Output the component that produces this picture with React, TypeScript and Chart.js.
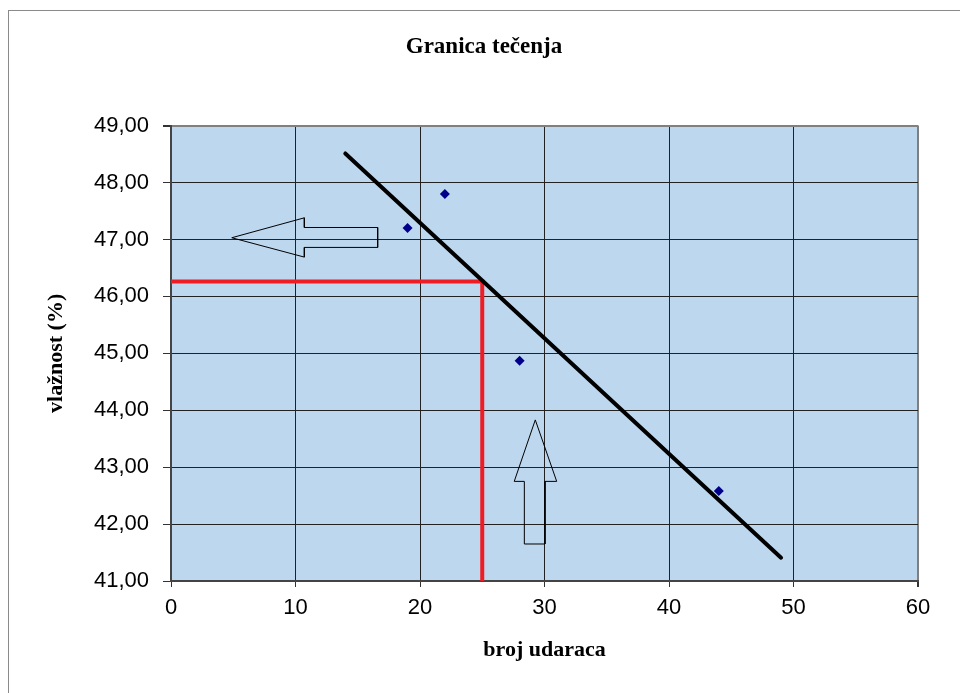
import React, { useEffect, useRef } from "react";
import { Chart, registerables } from "chart.js";

Chart.register(...registerables);

// Measured points (broj udaraca, vlažnost %)
const blowCounts = [19, 22, 28, 44];
const moisture = [47.2, 47.8, 44.87, 42.58];

// Linear trend line end points
const trendX = [14, 49];
const trendY = [48.51, 41.41];

// Red construction line for 25 blows
const limitX = [0, 25, 25];
const limitY = [46.26, 46.26, 41];

// Outline arrows (data units)
const leftArrowX = [4.88, 10.71, 10.71, 16.6, 16.6, 10.71, 10.71, 4.88];
const leftArrowY = [47.03, 47.38, 47.21, 47.21, 46.86, 46.86, 46.69, 47.03];
const upArrowX = [29.26, 30.98, 30.04, 30.04, 28.38, 28.38, 27.57, 29.26];
const upArrowY = [43.83, 42.75, 42.75, 41.65, 41.65, 42.75, 42.75, 43.83];

const xMin = 0;
const xMax = 60;
const xStep = 10;
const yMin = 41;
const yMax = 49;
const yStep = 1;

const toPts = (xs: number[], ys: number[]) => xs.map((x, i) => ({ x, y: ys[i] }));

const plotBg = {
  id: "plotBg",
  beforeDraw(chart: any) {
    const { ctx, chartArea } = chart;
    ctx.save();
    ctx.fillStyle = "#BDD7EE";
    ctx.fillRect(chartArea.left, chartArea.top, chartArea.right - chartArea.left, chartArea.bottom - chartArea.top);
    ctx.restore();
  },
};

export default function App() {
  const ref = useRef<HTMLCanvasElement | null>(null);

  useEffect(() => {
    if (!ref.current) return;
    const tickFont = { family: "'Liberation Sans', Arial, sans-serif", size: 22 };
    const titleFont = { family: "'Liberation Serif', 'Times New Roman', serif", size: 22, weight: "bold" as const };
    const chart = new Chart(ref.current, {
      type: "scatter",
      data: {
        datasets: [
          {
            data: toPts(blowCounts, moisture),
            pointStyle: "rectRot",
            pointRadius: 5,
            backgroundColor: "#00008B",
            borderColor: "#00008B",
            borderWidth: 0,
            showLine: false,
          },
          {
            data: toPts(trendX, trendY),
            showLine: true,
            borderColor: "#000000",
            borderWidth: 4,
            pointRadius: 0,
            borderCapStyle: "round",
          },
          {
            data: toPts(limitX, limitY),
            showLine: true,
            borderColor: "#EE1C25",
            borderWidth: 4,
            pointRadius: 0,
          },
          {
            data: toPts(leftArrowX, leftArrowY),
            showLine: true,
            borderColor: "#000000",
            borderWidth: 1,
            pointRadius: 0,
            fill: false,
          },
          {
            data: toPts(upArrowX, upArrowY),
            showLine: true,
            borderColor: "#000000",
            borderWidth: 1,
            pointRadius: 0,
            fill: false,
          },
        ],
      },
      options: {
        responsive: false,
        animation: false,
        layout: { padding: { left: 50, top: 0, right: 42, bottom: 0 } },
        plugins: {
          legend: { display: false },
          tooltip: { enabled: false },
          title: {
            display: true,
            text: "Granica tečenja",
            color: "#000",
            font: { family: "'Liberation Serif', 'Times New Roman', serif", size: 23, weight: "bold" },
            padding: { top: 33, bottom: 65 },
          },
        },
        scales: {
          x: {
            type: "linear",
            min: xMin,
            max: xMax,
            afterFit: (s: any) => {
              s.height = 112;
            },
            ticks: { stepSize: xStep, color: "#000", font: tickFont, padding: 8 },
            grid: {
              color: (c: any) => (c.tick && c.tick.value === xMax ? "#808080" : "#222"),
              lineWidth: (c: any) => (c.tick && c.tick.value === xMax ? 2 : 1),
              tickLength: 6,
              tickColor: "#333",
            },
            border: { color: "#444", width: 2 },
            title: { display: true, text: "broj udaraca", color: "#000", font: titleFont, padding: { top: 0, bottom: 29 } },
          },
          y: {
            type: "linear",
            min: yMin,
            max: yMax,
            afterFit: (s: any) => {
              s.width = 121;
            },
            ticks: {
              stepSize: yStep,
              color: "#000",
              font: tickFont,
              padding: 14,
              callback: (v: any) => Number(v).toFixed(2).replace(".", ","),
            },
            grid: {
              color: (c: any) => (c.tick && c.tick.value === yMax ? "#808080" : "#222"),
              lineWidth: (c: any) => (c.tick && c.tick.value === yMax ? 2 : 1),
              tickLength: 8,
              tickColor: "#333",
            },
            border: { color: "#444", width: 2 },
            title: { display: true, text: "vlažnost (%)", color: "#000", font: titleFont, padding: { top: -7, bottom: 0 } },
          },
        },
      },
      plugins: [plotBg],
    });
    return () => chart.destroy();
  }, []);

  return (
    <div style={{ position: "absolute", left: 0, top: 0, width: 960, height: 693, background: "#fff", overflow: "hidden" }}>
      <div
        style={{
          position: "absolute",
          left: 8,
          top: 10,
          width: 1000,
          height: 760,
          border: "1px solid #8a8a8a",
        }}
      />
      <canvas ref={ref} width={960} height={693} style={{ position: "absolute", left: 0, top: 0, width: 960, height: 693 }} />
    </div>
  );
}
